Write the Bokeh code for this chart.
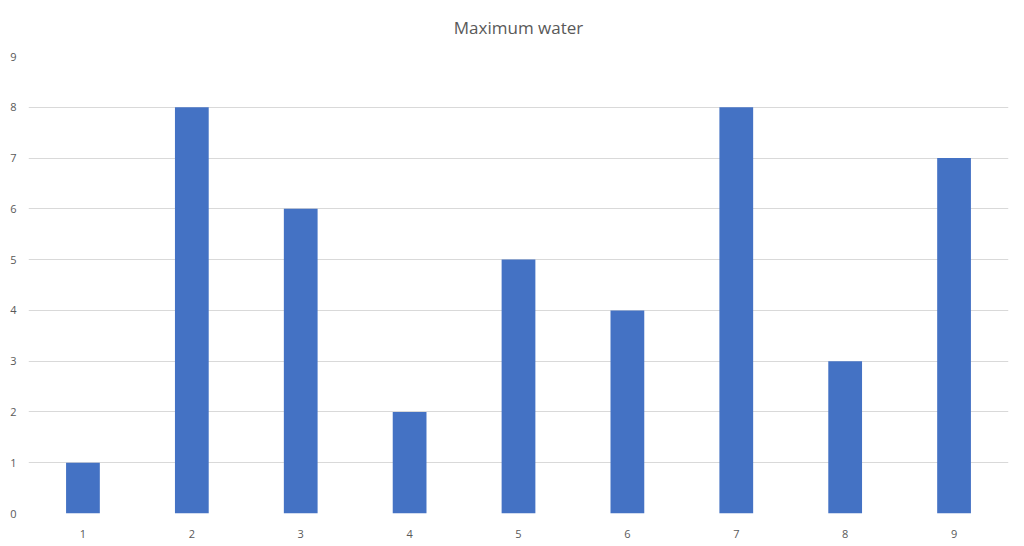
from bokeh.plotting import figure
from bokeh.embed import file_html
from bokeh.resources import INLINE
from bokeh.models import Range1d, FixedTicker

categories = [1, 2, 3, 4, 5, 6, 7, 8, 9]
values = [1, 8, 6, 2, 5, 4, 8, 3, 7]
y_ticks = [0, 1, 2, 3, 4, 5, 6, 7, 8, 9]
title_text = "Maximum water"

p = figure(width=1024, height=546, output_backend="svg", toolbar_location=None,
           x_range=Range1d(0.5, 9.5), y_range=Range1d(0, 9),
           title=title_text,
           min_border_left=28, min_border_right=16, min_border_bottom=33, min_border_top=2)

p.vbar(x=categories, top=values, width=0.31, color="#4472C4", line_color=None)

p.title.align = "center"
p.title.vertical_align = "top"
p.title.text_font = "Open Sans"
p.title.text_font_size = "17px"
p.title.text_font_style = "normal"
p.title.text_color = "#595959"
p.title.offset = 0
p.title.standoff = 31

p.outline_line_color = None
p.background_fill_color = "white"
p.border_fill_color = "white"

p.xgrid.grid_line_color = None
p.ygrid.grid_line_color = "#d9d9d9"
p.ygrid.grid_line_width = 1
p.ygrid.ticker = FixedTicker(ticks=y_ticks)

p.yaxis.ticker = FixedTicker(ticks=y_ticks)
p.xaxis.ticker = FixedTicker(ticks=categories)
for ax in (p.xaxis, p.yaxis):
    ax.axis_line_color = None
    ax.major_tick_line_color = None
    ax.minor_tick_line_color = None
    ax.major_label_text_font = "Open Sans"
    ax.major_label_text_font_size = "11px"
    ax.major_label_text_color = "#595959"
p.yaxis.major_label_standoff = 6
p.xaxis.major_label_standoff = 10

open("out.html", "w").write(file_html(p, INLINE))
